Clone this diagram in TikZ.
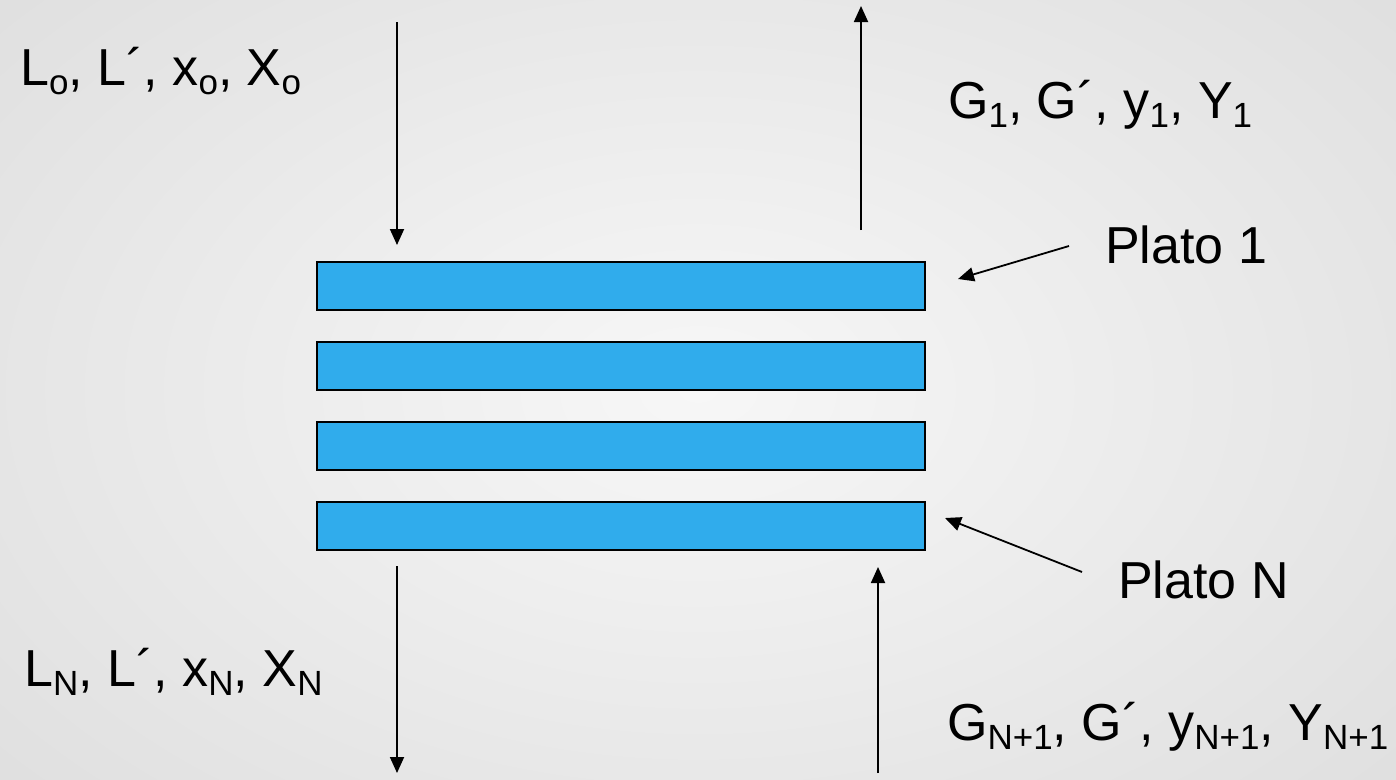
\documentclass[tikz,border=0pt]{standalone}
\usepackage{fontspec}
\setmainfont{Liberation Sans}
\usetikzlibrary{arrows.meta}
\definecolor{plateblue}{RGB}{48,172,236}
\definecolor{bginner}{RGB}{247,247,247}
\definecolor{bgouter}{RGB}{218,218,218}
% lowered, smaller index text
\newcommand\lsub[1]{\raisebox{-9pt}{\fontsize{35}{35}\selectfont #1}}
\begin{document}
\begin{tikzpicture}[x=1pt,y=-1pt,
  plate/.style={draw=black,line width=1.3pt,fill=plateblue,minimum width=608pt,
    minimum height=48pt,inner sep=0pt,outer sep=0pt},
  lbl/.style={anchor=base west,inner sep=0pt,font=\fontsize{52}{60}\selectfont},
  flow/.style={line width=1.8pt,-{Triangle[length=16pt,width=14pt]}},
]
% page frame and soft background
\useasboundingbox (0,0) rectangle (1396,779);
\begin{scope}
  \clip (0,0) rectangle (1396,779);
  \shade[inner color=bginner,outer color=bgouter] (-450,-350) rectangle (1846,1129);
\end{scope}

% the plates of the column
\node[plate] (p1) at (621,286) {};
\node[plate] (p2) at (621,366) {};
\node[plate] (p3) at (621,446) {};
\node[plate] (p4) at (621,526) {};

% free ends of the stream arrows
\coordinate (lin)   at (397,22);
\coordinate (linE)  at (397,245);
\coordinate (gout)  at (861,230);
\coordinate (goutE) at (861,6);
\coordinate (lout)  at (397,566);
\coordinate (loutE) at (397,773);
\coordinate (gin)   at (878,773);
\coordinate (ginE)  at (878,567);
\coordinate (t1)    at (1069,246);
\coordinate (t1E)   at (958,279);
\coordinate (tN)    at (1082,572);
\coordinate (tNE)   at (945,518);

\draw[flow] (lin) -- (linE);
\draw[flow] (gout) -- (goutE);
\draw[flow] (lout) -- (loutE);
\draw[flow] (gin) -- (ginE);
\draw[flow] (t1) -- (t1E);
\draw[flow] (tN) -- (tNE);

% stream labels
\node[lbl] (lo) at (20,85) {L\lsub{o}, L´, x\lsub{o}, X\lsub{o}};
\node[lbl] (g1) at (948,118) {G\lsub{1}, G´, y\lsub{1}, Y\lsub{1}};
\node[lbl] (ln) at (24,686) {L\lsub{N}, L´, x\lsub{N}, X\lsub{N}};
\node[lbl] (gn) at (947,740) {G\lsub{N+1}, G´, y\lsub{N+1}, Y\lsub{N+1}};
\node[lbl] (pl1) at (1105,263) {Plato 1};
\node[lbl] (plN) at (1118,598) {Plato N};
\end{tikzpicture}
\end{document}
